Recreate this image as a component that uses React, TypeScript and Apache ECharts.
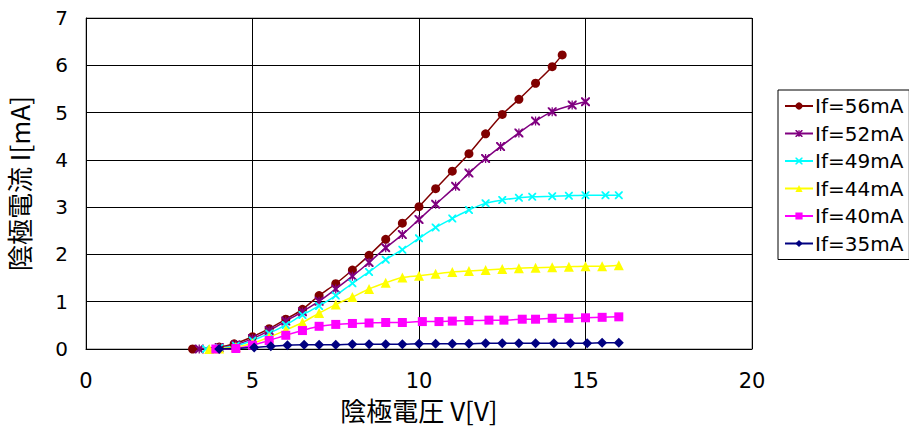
import React, { useEffect, useRef } from "react";
import * as echarts from "echarts";

const LEGEND_NAMES = ["If=56mA", "If=52mA", "If=49mA", "If=44mA", "If=40mA", "If=35mA"];

const V56 = [3.2, 4.0, 4.45, 5, 5.5, 6, 6.5, 7, 7.5, 8, 8.5, 9, 9.5, 10, 10.5, 11, 11.5, 12, 12.5, 13, 13.5, 14, 14.3];
const I56 = [0, 0.04, 0.11, 0.26, 0.43, 0.63, 0.84, 1.13, 1.38, 1.67, 1.98, 2.32, 2.66, 3.01, 3.39, 3.76, 4.13, 4.55, 4.96, 5.28, 5.62, 5.97, 6.22];

const V52 = [3.4, 4.0, 4.5, 5, 5.5, 6, 6.5, 7, 7.5, 8, 8.5, 9, 9.5, 10, 10.5, 11.1, 11.5, 12, 12.45, 13, 13.5, 14, 14.6, 15];
const I52 = [0, 0.03, 0.09, 0.22, 0.39, 0.59, 0.79, 1.01, 1.27, 1.54, 1.83, 2.14, 2.42, 2.74, 3.06, 3.44, 3.72, 4.03, 4.28, 4.57, 4.82, 5.02, 5.16, 5.23];

const V49 = [3.6, 4.0, 4.5, 5, 5.5, 6, 6.5, 7, 7.5, 8, 8.5, 9, 9.5, 10, 10.5, 11, 11.5, 12, 12.5, 13, 13.4, 14, 14.5, 15, 15.6, 16];
const I49 = [0, 0.02, 0.07, 0.18, 0.33, 0.51, 0.72, 0.91, 1.13, 1.39, 1.63, 1.89, 2.1, 2.34, 2.57, 2.76, 2.94, 3.08, 3.15, 3.2, 3.22, 3.23, 3.24, 3.25, 3.25, 3.25];

const V44 = [3.7, 4.0, 4.5, 5, 5.5, 6, 6.5, 7, 7.5, 8, 8.5, 9, 9.5, 10, 10.5, 11, 11.5, 12, 12.5, 13, 13.5, 14, 14.5, 15, 15.5, 16];
const I44 = [0, 0.01, 0.04, 0.12, 0.25, 0.4, 0.56, 0.76, 0.94, 1.1, 1.27, 1.4, 1.51, 1.55, 1.59, 1.63, 1.65, 1.67, 1.69, 1.71, 1.72, 1.73, 1.74, 1.75, 1.75, 1.77];

const V40 = [3.9, 4.5, 5, 5.5, 6, 6.5, 7, 7.5, 8, 8.5, 9, 9.5, 10.1, 10.6, 11, 11.5, 12.1, 12.55, 13.1, 13.5, 14, 14.5, 15, 15.5, 16];
const I40 = [0, 0.01, 0.08, 0.18, 0.29, 0.39, 0.48, 0.52, 0.54, 0.55, 0.56, 0.56, 0.58, 0.58, 0.59, 0.6, 0.61, 0.61, 0.63, 0.63, 0.65, 0.65, 0.66, 0.67, 0.68];

const V35 = [4.0, 5.05, 5.55, 6.05, 6.55, 7, 7.5, 8, 8.5, 9, 9.5, 10, 10.5, 11, 11.5, 12, 12.5, 13, 13.5, 14.05, 14.55, 15.05, 15.5, 16];
const I35 = [0, 0.03, 0.06, 0.08, 0.09, 0.09, 0.09, 0.1, 0.1, 0.1, 0.1, 0.11, 0.11, 0.11, 0.11, 0.12, 0.12, 0.12, 0.12, 0.12, 0.12, 0.12, 0.13, 0.13];

const X_TITLE = "陰極電圧 V[V]";
const Y_TITLE = "陰極電流 I[mA]";

const X_PATH =
  "path://M0,0 L1.6,0 L5,3.4 L8.4,0 L10,0 L10,1.6 L6.6,5 L10,8.4 L10,10 L8.4,10 L5,6.6 L1.6,10 L0,10 L0,8.4 L3.4,5 L0,1.6 Z";
const STAR_PATH =
  "path://M0,0 L1.6,0 L5,3.4 L8.4,0 L10,0 L10,1.6 L6.6,5 L10,8.4 L10,10 L8.4,10 L5,6.6 L1.6,10 L0,10 L0,8.4 L3.4,5 L0,1.6 Z M4.3,0 L5.7,0 L5.7,10 L4.3,10 Z";

const zip = (xs: number[], ys: number[]) => xs.map((x, i) => [x, ys[i]]);

export default function App() {
  const ref = useRef<HTMLDivElement>(null);
  useEffect(() => {
    document.body.style.margin = "0";
    const chart = echarts.init(ref.current!, null, { renderer: "svg" });
    const mk = (name: string, xs: number[], ys: number[], color: string, symbol: string, size: number) => ({
      name,
      type: "line",
      data: zip(xs, ys),
      smooth: 0.3,
      symbol,
      symbolSize: size,
      showAllSymbol: true,
      lineStyle: { color, width: 1.5 },
      itemStyle: { color, borderWidth: 0 },
      emphasis: { disabled: true },
    });
    chart.setOption({
      animation: false,
      backgroundColor: "#ffffff",
      grid: {
        left: 86,
        top: 18,
        width: 666,
        height: 331,
        show: true,
        borderColor: "#808080",
        borderWidth: 1,
        containLabel: false,
        outerBoundsMode: "none",
      },
      legend: {
        orient: "vertical",
        left: 778,
        top: 90,
        width: 130,
        padding: [6, 6, 6, 6],
        itemGap: 7.5,
        itemWidth: 28,
        itemHeight: 9,
        borderColor: "#000000",
        borderWidth: 1,
        backgroundColor: "#ffffff",
        data: LEGEND_NAMES,
        textStyle: { fontFamily: "DejaVu Sans", fontSize: 20, color: "#000000", padding: [0, 0, 0, -3] },
      },
      xAxis: {
        type: "value",
        min: 0,
        max: 20,
        interval: 5,
        name: X_TITLE,
        nameLocation: "middle",
        nameGap: 46,
        nameTextStyle: { fontFamily: "Noto Sans CJK JP", fontSize: 26, lineHeight: 28, color: "#000000" },
        axisLine: { show: true, onZero: false, lineStyle: { color: "#000000", width: 1 } },
        axisTick: { show: false },
        axisLabel: { fontFamily: "DejaVu Sans", fontSize: 21, color: "#000000", margin: 21 },
        splitLine: { show: true, lineStyle: { color: "#000000", width: 1 } },
      },
      yAxis: {
        type: "value",
        min: 0,
        max: 7,
        interval: 1,
        name: Y_TITLE,
        nameLocation: "middle",
        nameGap: 54,
        nameTextStyle: { fontFamily: "Noto Sans CJK JP", fontSize: 26, lineHeight: 28, color: "#000000" },
        axisLine: { show: true, onZero: false, lineStyle: { color: "#000000", width: 1 } },
        axisTick: { show: false },
        axisLabel: { fontFamily: "DejaVu Sans", fontSize: 20, color: "#000000", margin: 18 },
        splitLine: { show: true, lineStyle: { color: "#000000", width: 1 } },
      },
      series: [
        mk(LEGEND_NAMES[0], V56, I56, "#800000", "circle", 9),
        mk(LEGEND_NAMES[1], V52, I52, "#800080", STAR_PATH, 9),
        mk(LEGEND_NAMES[2], V49, I49, "#00FFFF", X_PATH, 8),
        mk(LEGEND_NAMES[3], V44, I44, "#FFFF00", "triangle", 10),
        mk(LEGEND_NAMES[4], V40, I40, "#FF00FF", "rect", 9),
        mk(LEGEND_NAMES[5], V35, I35, "#000080", "diamond", 10),
      ],
    });
    return () => chart.dispose();
  }, []);
  return <div ref={ref} style={{ width: 909, height: 427 }} />;
}
